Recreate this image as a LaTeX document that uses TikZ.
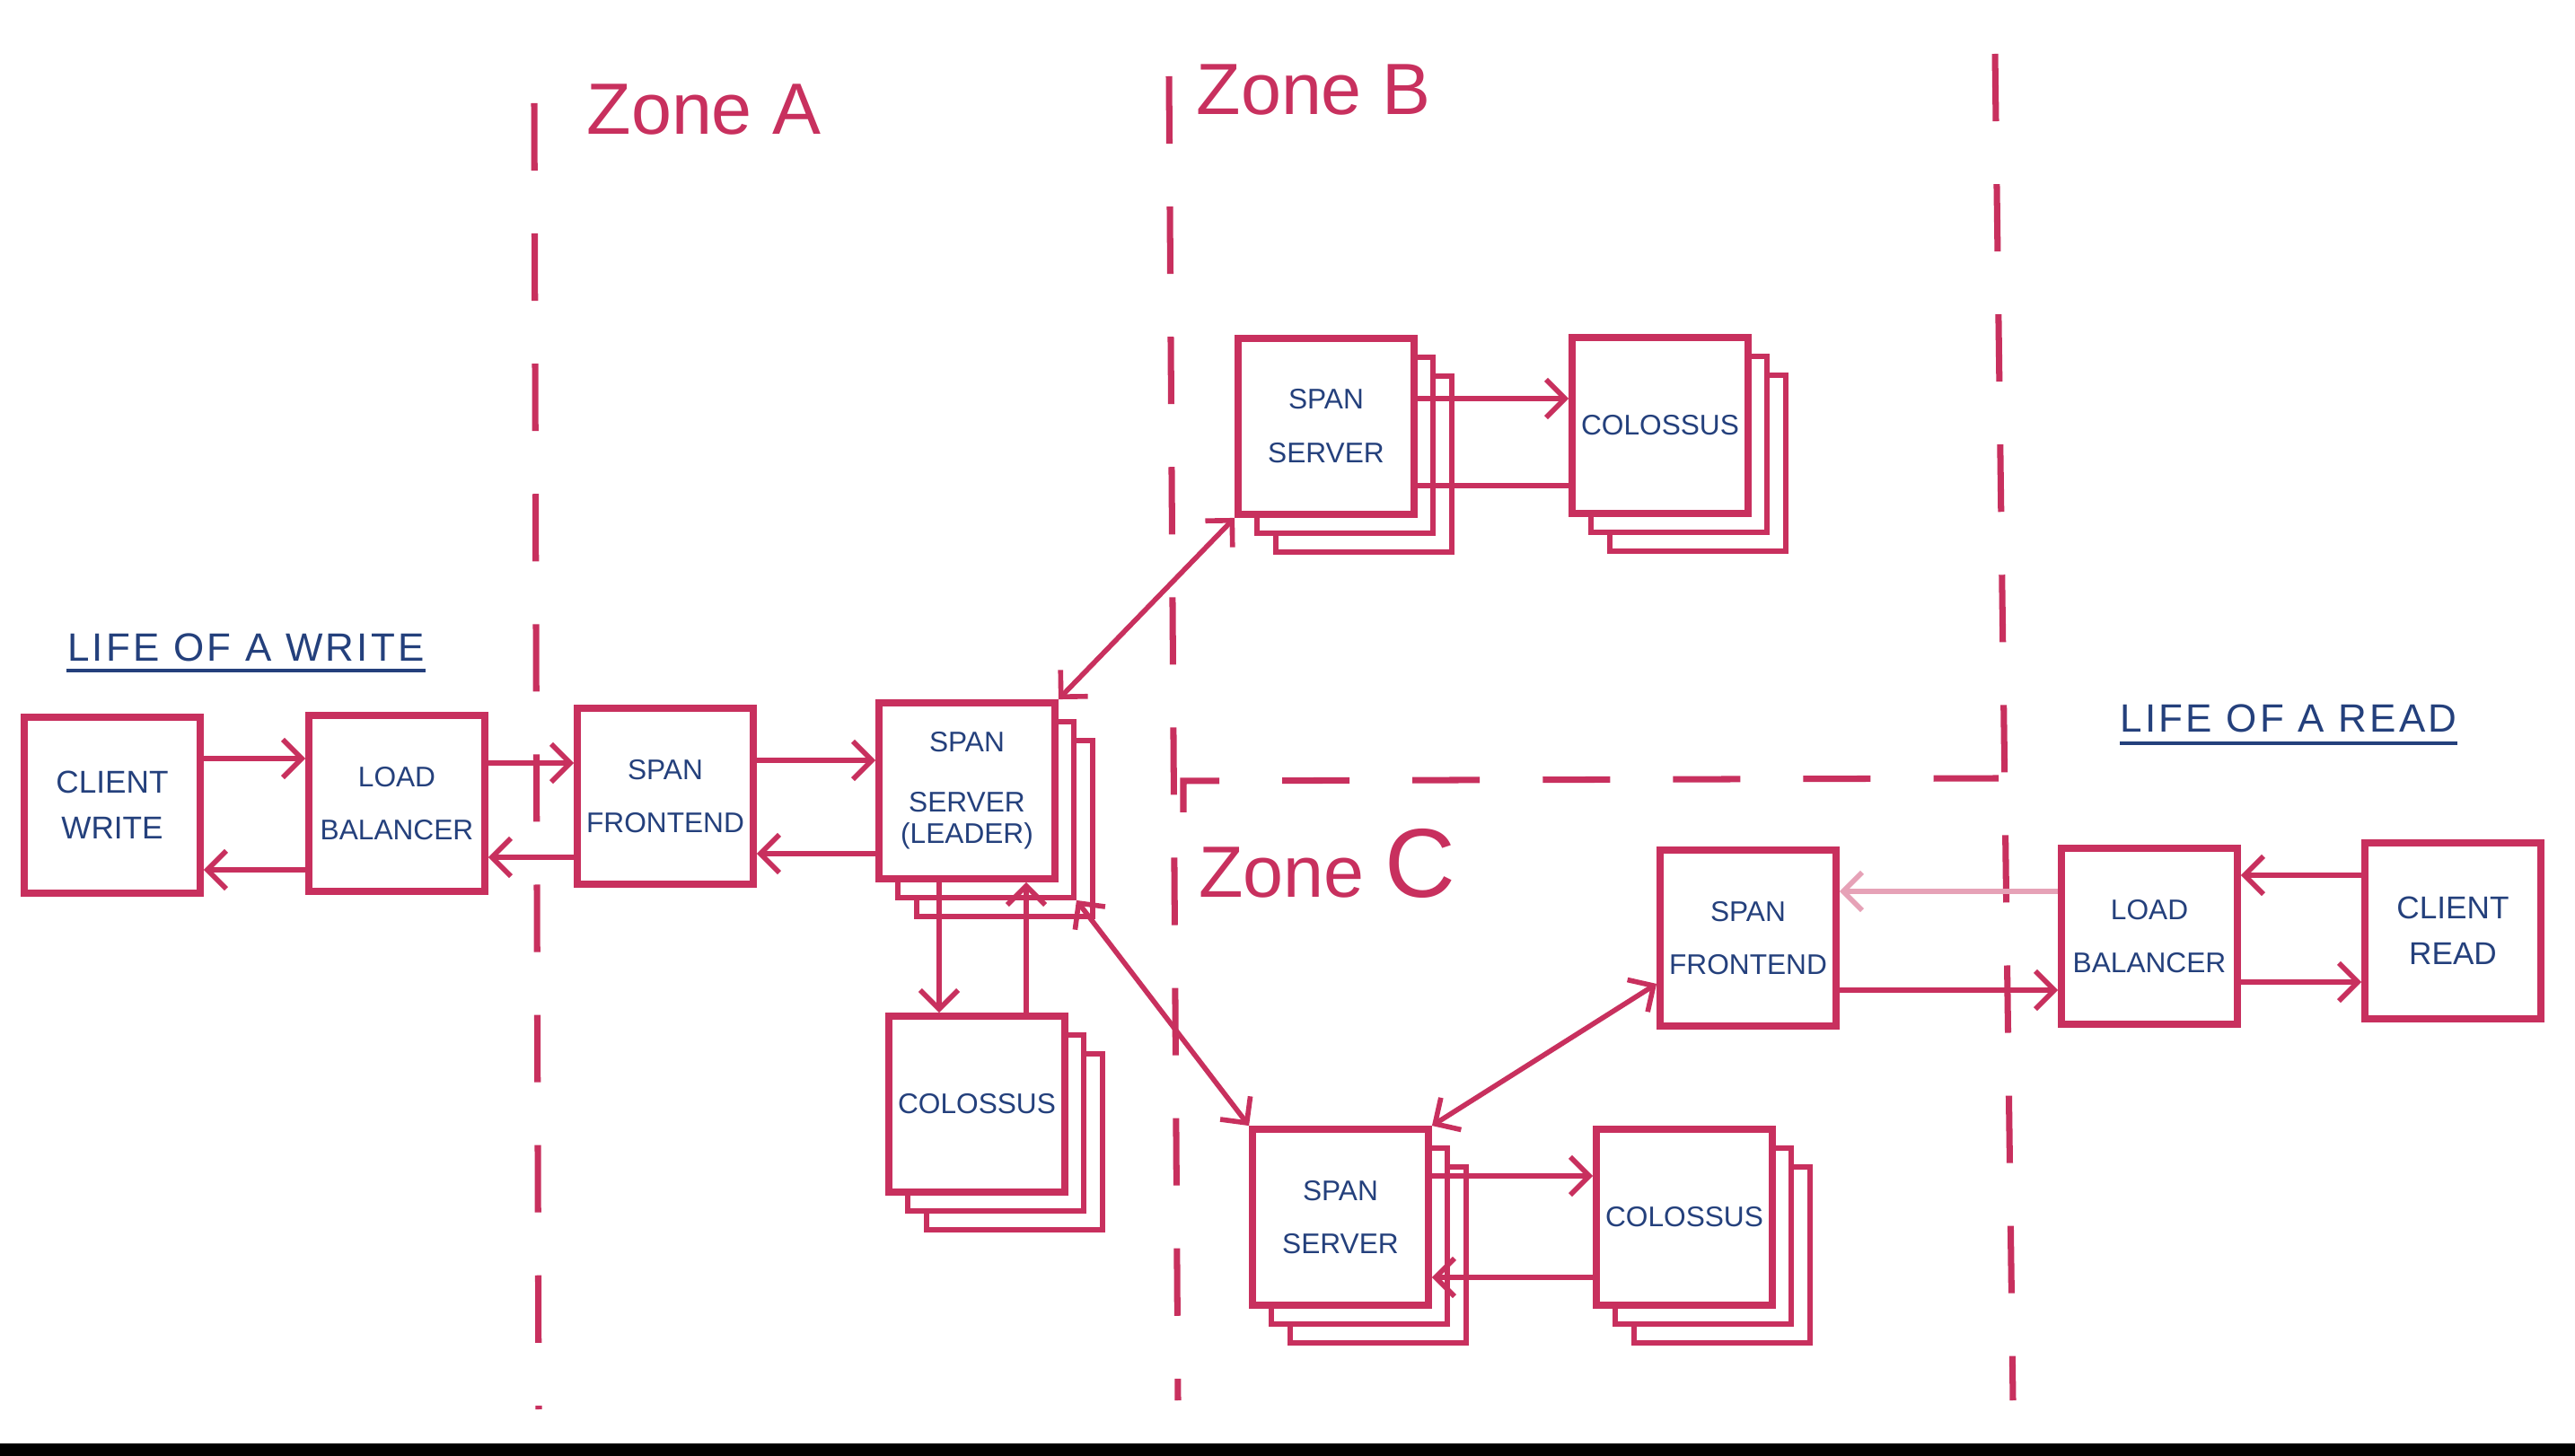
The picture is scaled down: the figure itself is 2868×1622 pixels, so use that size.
\documentclass[tikz,border=0pt]{standalone}
\usepackage{fontspec}
\setmainfont{Liberation Sans}
\usetikzlibrary{calc}
\usetikzlibrary{arrows.meta,shadows}
\definecolor{crimson}{HTML}{C8305E}
\definecolor{navy}{HTML}{24407C}
\def\boxsize{1.96cm}

\tikzset{
  >={Straight Barb[length=6pt,width=12pt]},
  box/.style={draw=crimson, line width=2.2pt, fill=white, minimum width=\boxsize, minimum height=\boxsize,
    inner sep=0pt, align=center, text=navy, font=\fontsize{9}{17}\selectfont},
  stack/.style={box,
    copy shadow={shadow xshift=12pt, shadow yshift=-12pt, draw=crimson, fill=white, line width=1.6pt},
    copy shadow={shadow xshift=6pt, shadow yshift=-6pt, draw=crimson, fill=white, line width=1.6pt}},
  flow/.style={draw=crimson, line width=1.6pt, ->},
  zone/.style={draw=crimson, line width=2pt, dash pattern=on 0.75cm off 0.7cm},
  zonelabel/.style={text=crimson, inner sep=0pt, font=\fontsize{23}{23}\selectfont},
  heading/.style={text=navy, inner sep=0pt, font=\fontsize{12.5}{14}\selectfont\addfontfeatures{LetterSpace=7.5}},
}

\begin{document}
\begin{tikzpicture}[x=0.01cm, y=-0.01cm]
\path[use as bounding box, fill=white] (0,0) rectangle (2868,1622);

% zones
\draw[zone] (595,115) -- (600,1570);
\draw[zone] (1302,85) -- (1312,1560);
\draw[zone] (2222,60) -- (2242,1560);
\draw[zone] (1318,905) -- (1318,870) -- (2226,867);

\node[zonelabel] (za) at (784,122) {Zone A};
\node[zonelabel] (zb) at (1463,100) {Zone B};
\node[zonelabel] (zc) at (1478,962) {Zone {\fontsize{31}{31}\selectfont C}};

% headings
\node[heading] (lw) at (274,721) {LIFE OF A WRITE};
\draw[navy, line width=1.2pt] ([yshift=-0.1cm]lw.south west) -- ([yshift=-0.1cm]lw.south east);
\node[heading] (lr) at (2549,800) {LIFE OF A READ};
\draw[navy, line width=1.2pt] ([yshift=-0.12cm]lr.south west) -- ([yshift=-0.12cm]lr.south east);

% boxes
\node[box, font=\fontsize{10}{14.5}\selectfont] (cw) at (125,897) {CLIENT\\WRITE};
\node[box] (lbw) at (442,895) {LOAD\\BALANCER};
\node[box] (sfa) at (741,887) {SPAN\\FRONTEND};
\node[stack, font=\fontsize{9}{10}\selectfont] (ssa) at (1077,881) {SPAN\\[9pt]SERVER\\(LEADER)};
\node[stack] (cola) at (1088,1230) {COLOSSUS};

\node[stack] (ssb) at (1477,475) {SPAN\\SERVER};
\node[stack] (colb) at (1849,474) {COLOSSUS};

\node[box] (sfc) at (1947,1045) {SPAN\\FRONTEND};
\node[stack] (ssc) at (1493,1356) {SPAN\\SERVER};
\node[stack] (colc) at (1876,1356) {COLOSSUS};

\node[box] (lbr) at (2394,1043) {LOAD\\BALANCER};
\node[box, font=\fontsize{10}{14.5}\selectfont] (cr) at (2732,1037) {CLIENT\\READ};

% write path
\draw[flow] ([yshift=0.52cm]cw.east) -- ([yshift=0.52cm]cw.east -| lbw.west);
\draw[flow] ([yshift=-0.72cm]cw.east -| lbw.west) -- ([yshift=-0.72cm]cw.east);
\draw[flow] ([yshift=0.45cm]lbw.east) -- ([yshift=0.45cm]lbw.east -| sfa.west);
\draw[flow] ([yshift=-0.6cm]lbw.east -| sfa.west) -- ([yshift=-0.6cm]lbw.east);
\draw[flow] ([yshift=0.4cm]sfa.east) -- ([yshift=0.4cm]sfa.east -| ssa.west);
\draw[flow] ([yshift=-0.64cm]sfa.east -| ssa.west) -- ([yshift=-0.64cm]sfa.east);
\draw[flow] ([xshift=-0.31cm]ssa.south) -- ([xshift=-0.31cm]ssa.south |- cola.north);
\draw[flow] ([xshift=0.66cm]ssa.south |- cola.north) -- ([xshift=0.66cm]ssa.south);

% replicas
\draw[flow, <->] (ssa.north east) -- (ssb.south west);
\draw[flow, <->] ([xshift=0.2cm, yshift=-0.2cm]ssa.south east) -- (ssc.north west);
\draw[flow] ([yshift=0.31cm]ssb.east) -- ([yshift=0.31cm]ssb.east -| colb.west);
\draw[draw=crimson, line width=1.6pt] ([yshift=-0.66cm]ssb.east) -- ([yshift=-0.66cm]ssb.east -| colb.west);
\draw[flow] ([yshift=0.46cm]ssc.east) -- ([yshift=0.46cm]ssc.east -| colc.west);
\draw[flow] ([yshift=-0.67cm]ssc.east -| colc.west) -- ([yshift=-0.67cm]ssc.east);

% read path
\draw[flow, <->] (ssc.north east) -- ($(sfc.south west)!0.25!(sfc.north west)$);
\draw[flow, draw=crimson!45] ([yshift=0.5cm]lbr.west) -- ([yshift=0.5cm]lbr.west -| sfc.east);
\draw[flow] ([yshift=-0.6cm]lbr.west -| sfc.east) -- ([yshift=-0.6cm]lbr.west);
\draw[flow] ([yshift=0.62cm]cr.west) -- ([yshift=0.62cm]cr.west -| lbr.east);
\draw[flow] ([yshift=-0.57cm]cr.west -| lbr.east) -- ([yshift=-0.57cm]cr.west);

\fill[black] (0,1608) rectangle (2868,1622);
\end{tikzpicture}
\end{document}
